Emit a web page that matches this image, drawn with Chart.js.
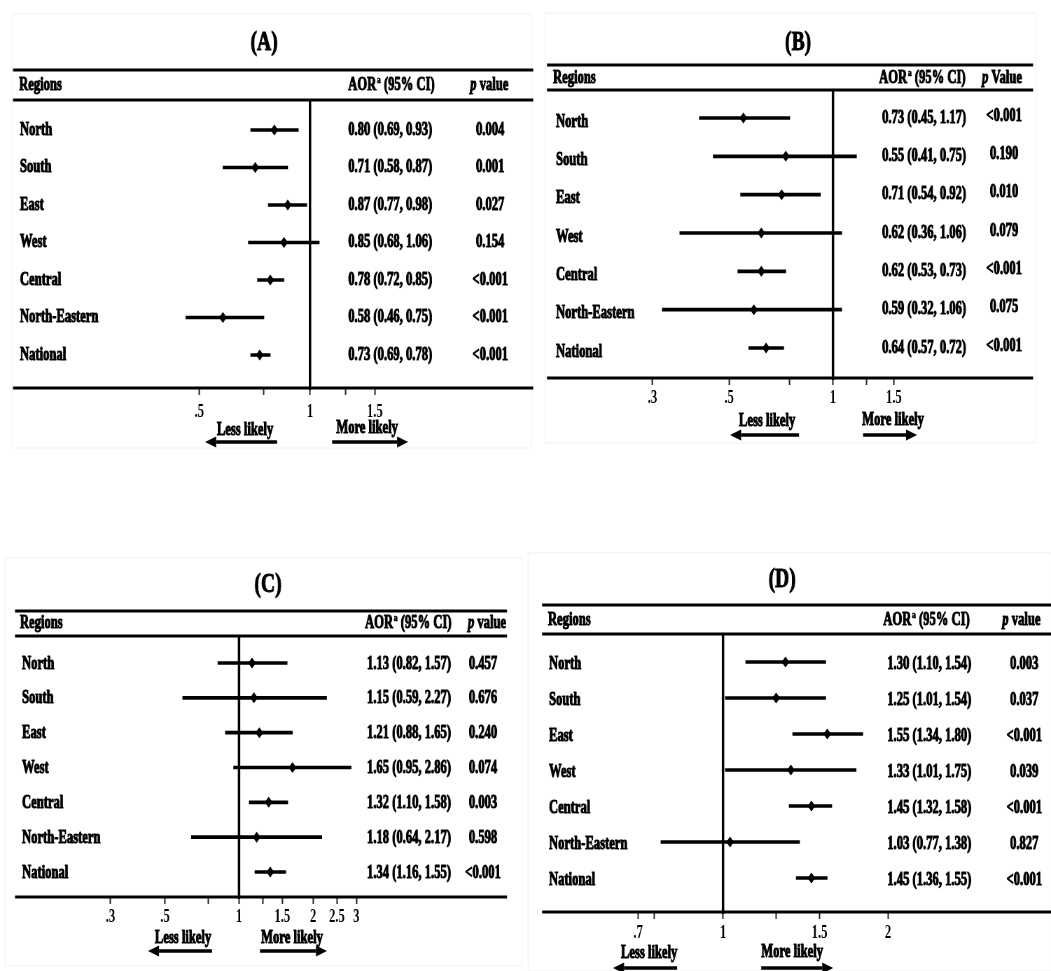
<!DOCTYPE html>
<html>
<head>
<meta charset="utf-8">
<script src="https://cdn.jsdelivr.net/npm/chart.js@4.4.0/dist/chart.umd.min.js"></script>
<style>
  html, body { margin: 0; padding: 0; background: #fff; }
  #wrap { position: relative; width: 1051px; height: 971px; overflow: hidden; }
  #wrap canvas { position: absolute; }
</style>
</head>
<body>
<div id="wrap">
  <canvas id="chartA"></canvas>
  <canvas id="chartB"></canvas>
  <canvas id="chartC"></canvas>
  <canvas id="chartD"></canvas>
</div>
<script>
var regions = ['North', 'South', 'East', 'West', 'Central', 'North-Eastern', 'National'];

// (A)
var orA = [0.80, 0.71, 0.87, 0.85, 0.78, 0.58, 0.73];
var loA = [0.69, 0.58, 0.77, 0.68, 0.72, 0.46, 0.69];
var hiA = [0.93, 0.87, 0.98, 1.06, 0.85, 0.75, 0.78];
var pA = ['0.004', '0.001', '0.027', '0.154', '<0.001', '<0.001', '<0.001'];
var tickValsA = [0.5, 0.75, 1, 1.25, 1.5];
var tickLabelsA = ['.5', '', '1', '', '1.5'];

// (B) - markers for North / South are drawn swapped vs the printed column
var orB = [0.55, 0.73, 0.71, 0.62, 0.62, 0.59, 0.64];
var loB = [0.41, 0.45, 0.54, 0.36, 0.53, 0.32, 0.57];
var hiB = [0.75, 1.17, 0.92, 1.06, 0.73, 1.06, 0.72];
var aorTextB = ['0.73 (0.45, 1.17)', '0.55 (0.41, 0.75)', '0.71 (0.54, 0.92)', '0.62 (0.36, 1.06)',
                '0.62 (0.53, 0.73)', '0.59 (0.32, 1.06)', '0.64 (0.57, 0.72)'];
var pB = ['<0.001', '0.190', '0.010', '0.079', '<0.001', '0.075', '<0.001'];
var tickValsB = [0.3, 0.5, 0.75, 1, 1.25, 1.5];
var tickLabelsB = ['.3', '.5', '', '1', '', '1.5'];

// (C)
var orC = [1.13, 1.15, 1.21, 1.65, 1.32, 1.18, 1.34];
var loC = [0.82, 0.59, 0.88, 0.95, 1.10, 0.64, 1.16];
var hiC = [1.57, 2.27, 1.65, 2.86, 1.58, 2.17, 1.55];
var pC = ['0.457', '0.676', '0.240', '0.074', '0.003', '0.598', '<0.001'];
var tickValsC = [0.3, 0.5, 0.75, 1, 1.25, 1.5, 2, 2.5, 3];
var tickLabelsC = ['.3', '.5', '', '1', '', '1.5', '2', '2.5', '3'];

// (D)
var orD = [1.30, 1.25, 1.55, 1.33, 1.45, 1.03, 1.45];
var loD = [1.10, 1.01, 1.34, 1.01, 1.32, 0.77, 1.36];
var hiD = [1.54, 1.54, 1.80, 1.75, 1.58, 1.38, 1.55];
var pD = ['0.003', '0.037', '<0.001', '0.039', '<0.001', '0.827', '<0.001'];
var tickValsD = [0.7, 0.75, 1, 1.25, 1.5, 2];
var tickLabelsD = ['.7', '', '1', '', '1.5', '2'];

var SX = 0.7; // the figure is squeezed sideways, canvases are drawn wide and shrunk by css
var fontFam = '"Liberation Serif", "Times New Roman", serif';

function fmt(v) { return v.toFixed(2); }
function aorText(or, lo, hi) {
  return or.map(function (v, i) { return fmt(v) + ' (' + fmt(lo[i]) + ', ' + fmt(hi[i]) + ')'; });
}

// filled + thin stroke so the squeezed glyphs stay heavy like the original
function drawText(ctx, s, x, y, size, align, italic) {
  ctx.font = (italic ? 'italic ' : '') + 'bold ' + size + 'px ' + fontFam;
  ctx.textAlign = align || 'left';
  ctx.textBaseline = 'middle';
  ctx.fillStyle = '#000';
  ctx.strokeStyle = '#000';
  ctx.lineWidth = size > 15 ? 1 : 0.6;
  ctx.lineJoin = 'round';
  ctx.fillText(s, x, y);
  ctx.strokeText(s, x, y);
  return ctx.measureText(s).width;
}

function arrow(ctx, x0, x1, y) {
  var dir = x1 > x0 ? 1 : -1, head = 11 / SX;
  ctx.lineWidth = 3.5;
  ctx.beginPath(); ctx.moveTo(x0, y); ctx.lineTo(x1 - dir * head, y); ctx.stroke();
  ctx.beginPath();
  ctx.moveTo(x1, y); ctx.lineTo(x1 - dir * head, y - 5.5); ctx.lineTo(x1 - dir * head, y + 5.5);
  ctx.closePath(); ctx.fill();
}

var panels = [
  { id: 'chartA', title: '(A)', or: orA, lo: loA, hi: hiA, aor: aorText(orA, loA, hiA), pv: pA, pWord: ' value',
    tickVals: tickValsA, tickLabels: tickLabelsA,
    L: { canvas: [0, 0, 535, 460], frame: [12, 14, 531, 448], rule: [13, 533], ruleTop: 70, top: 100, bottom: 388,
         one: 310, k: 160, area: [150, 450], row0: 130, step: 37.5, tickPad: 7,
         title: [264, 43], head: { y: 85, reg: 19, aor: 348, p: 470 },
         regX: 20, aorX: 348, pX: 490, dy: [0, 0, 0],
         less: [245, 430, 277, 205, 442], more: [367, 428, 332, 408, 442] } },
  { id: 'chartB', title: '(B)', or: orB, lo: loB, hi: hiB, aor: aorTextB, pv: pB, pWord: ' Value',
    tickVals: tickValsB, tickLabels: tickLabelsB,
    L: { canvas: [535, 0, 516, 460], frame: [545, 13, 1036, 443], rule: [547, 1033], ruleTop: 65, top: 90, bottom: 378,
         one: 833, k: 150, area: [620, 960], row0: 118, step: 38.33, tickPad: 3,
         title: [798, 43], head: { y: 78, reg: 553, aor: 879, p: 982 },
         regX: 556, aorX: 882, pX: 1004, dy: [4, 0, -2],
         less: [767, 421, 799, 730, 435], more: [893, 420, 863, 917, 435] } },
  { id: 'chartC', title: '(C)', or: orC, lo: loC, hi: hiC, aor: aorText(orC, loC, hiC), pv: pC, pWord: ' value',
    tickVals: tickValsC, tickLabels: tickLabelsC,
    L: { canvas: [0, 520, 525, 451], frame: [5, 558, 522, 966], rule: [15, 507], ruleTop: 611, top: 636, bottom: 897,
         one: 239, k: 106.8, area: [60, 380], row0: 663, step: 34.83, tickPad: 3,
         title: [268, 585], head: { y: 623, reg: 20, aor: 365, p: 468 },
         regX: 22, aorX: 367, pX: 483, dy: [1, 1, 1],
         less: [183, 938, 212, 148, 951], more: [292, 938, 260, 327, 951] } },
  { id: 'chartD', title: '(D)', or: orD, lo: loD, hi: hiD, aor: aorText(orD, loD, hiD), pv: pD, pWord: ' value',
    tickVals: tickValsD, tickLabels: tickLabelsD,
    L: { canvas: [525, 520, 526, 451], frame: [528, 553, 1051, 971], rule: [542, 1051], ruleTop: 605, top: 634, bottom: 912,
         one: 723, k: 238, area: [580, 940], row0: 662, step: 36, tickPad: 4,
         title: [782, 580], head: { y: 620, reg: 548, aor: 883, p: 1002 },
         regX: 549, aorX: 887, pX: 1024, dy: [2, 2, 2],
         less: [649, 953, 677, 613, 968], more: [792, 952, 761, 833, 968] } }
];

function decor(p) {
  var L = p.L;
  return {
    id: 'decor',
    afterDraw: function (chart) {
      var ctx = chart.ctx, xs = chart.scales.x, ys = chart.scales.y, ca = chart.chartArea;
      var X = function (v) { return (v - L.canvas[0]) / SX; };
      var Y = function (v) { return v - L.canvas[1]; };
      ctx.save();
      ctx.strokeStyle = '#f0f0f0'; ctx.lineWidth = 1;
      ctx.strokeRect(X(L.frame[0]), Y(L.frame[1]), X(L.frame[2]) - X(L.frame[0]), Y(L.frame[3]) - Y(L.frame[1]));

      ctx.strokeStyle = '#000'; ctx.fillStyle = '#000'; ctx.lineWidth = 3;
      [Y(L.ruleTop), ca.top, ca.bottom].forEach(function (y) {
        ctx.beginPath(); ctx.moveTo(X(L.rule[0]), y); ctx.lineTo(X(L.rule[1]), y); ctx.stroke();
      });
      // no-effect line at 1
      var x1 = xs.getPixelForValue(1);
      ctx.lineWidth = 3.5;
      ctx.beginPath(); ctx.moveTo(x1, ca.top); ctx.lineTo(x1, ca.bottom + 2); ctx.stroke();

      drawText(ctx, p.title, X(L.title[0]), Y(L.title[1]), 28, 'center');

      var hy = Y(L.head.y);
      drawText(ctx, 'Regions', X(L.head.reg), hy, 18, 'left');
      var ax = X(L.head.aor);
      ax += drawText(ctx, 'AOR', ax, hy, 18, 'left');
      ax += drawText(ctx, 'a', ax + 1, hy - 5, 11, 'left') + 1;
      drawText(ctx, ' (95% CI)', ax, hy, 18, 'left');
      var px = X(L.head.p);
      px += drawText(ctx, 'p', px, hy, 18, 'left', true);
      drawText(ctx, p.pWord, px, hy, 18, 'left');

      for (var i = 0; i < regions.length; i++) {
        var y = ys.getPixelForValue(i);
        drawText(ctx, regions[i], X(L.regX), y + L.dy[0], 18, 'left');
        drawText(ctx, p.aor[i], X(L.aorX), y + L.dy[1], 18, 'left');
        drawText(ctx, p.pv[i], X(L.pX), y + L.dy[2], 18, 'center');
      }

      drawText(ctx, 'Less likely', X(L.less[0]), Y(L.less[1]), 18, 'center');
      arrow(ctx, X(L.less[2]), X(L.less[3]), Y(L.less[4]));
      drawText(ctx, 'More likely', X(L.more[0]), Y(L.more[1]), 18, 'center');
      arrow(ctx, X(L.more[2]), X(L.more[3]), Y(L.more[4]));
      ctx.restore();
    }
  };
}

panels.forEach(function (p) {
  var L = p.L, c = document.getElementById(p.id);
  var axisH = 40;
  c.width = Math.round(L.canvas[2] / SX);
  c.height = L.canvas[3];
  c.style.left = L.canvas[0] + 'px';
  c.style.top = L.canvas[1] + 'px';
  c.style.width = L.canvas[2] + 'px';
  c.style.height = L.canvas[3] + 'px';

  var yMin = -(L.row0 - L.top) / L.step;
  var yMax = 6 + (L.bottom - (L.row0 + 6 * L.step)) / L.step;

  new Chart(c, {
    type: 'bar',
    data: {
      datasets: [
        {
          type: 'bar',
          data: p.lo.map(function (v, i) { return { x: [v, p.hi[i]], y: i }; }),
          backgroundColor: '#000',
          borderWidth: 0,
          borderSkipped: false,
          barThickness: 3,
          grouped: false
        },
        {
          type: 'scatter',
          data: p.or.map(function (v, i) { return { x: v, y: i }; }),
          pointStyle: 'rectRot',
          pointRadius: 5.5,
          backgroundColor: '#000',
          borderColor: '#000',
          borderWidth: 0
        }
      ]
    },
    options: {
      indexAxis: 'y',
      responsive: false,
      animation: false,
      devicePixelRatio: 1,
      layout: {
        padding: {
          left: (L.area[0] - L.canvas[0]) / SX,
          right: (L.canvas[0] + L.canvas[2] - L.area[1]) / SX,
          top: L.top - L.canvas[1],
          bottom: L.canvas[1] + L.canvas[3] - L.bottom - axisH
        }
      },
      plugins: { legend: { display: false }, tooltip: { enabled: false } },
      scales: {
        x: {
          type: 'logarithmic',
          position: 'bottom',
          bounds: 'data',
          offset: false,
          min: Math.exp((L.area[0] - L.one) / L.k),
          max: Math.exp((L.area[1] - L.one) / L.k),
          afterBuildTicks: function (s) { s.ticks = p.tickVals.map(function (v) { return { value: v }; }); },
          afterFit: function (s) { s.height = axisH; },
          ticks: {
            autoSkip: false, maxRotation: 0, minRotation: 0, padding: L.tickPad, color: '#000',
            font: { family: fontFam, size: 18, weight: 'bold' },
            callback: function (v, i) { return p.tickLabels[i]; }
          },
          grid: { drawOnChartArea: false, drawTicks: true, tickLength: 7, tickWidth: 2, color: '#222', offset: false },
          border: { display: false }
        },
        y: {
          type: 'linear',
          reverse: true,
          bounds: 'data',
          offset: false,
          beginAtZero: false,
          min: yMin,
          max: yMax,
          display: false
        }
      }
    },
    plugins: [decor(p)]
  });
});
</script>
</body>
</html>
